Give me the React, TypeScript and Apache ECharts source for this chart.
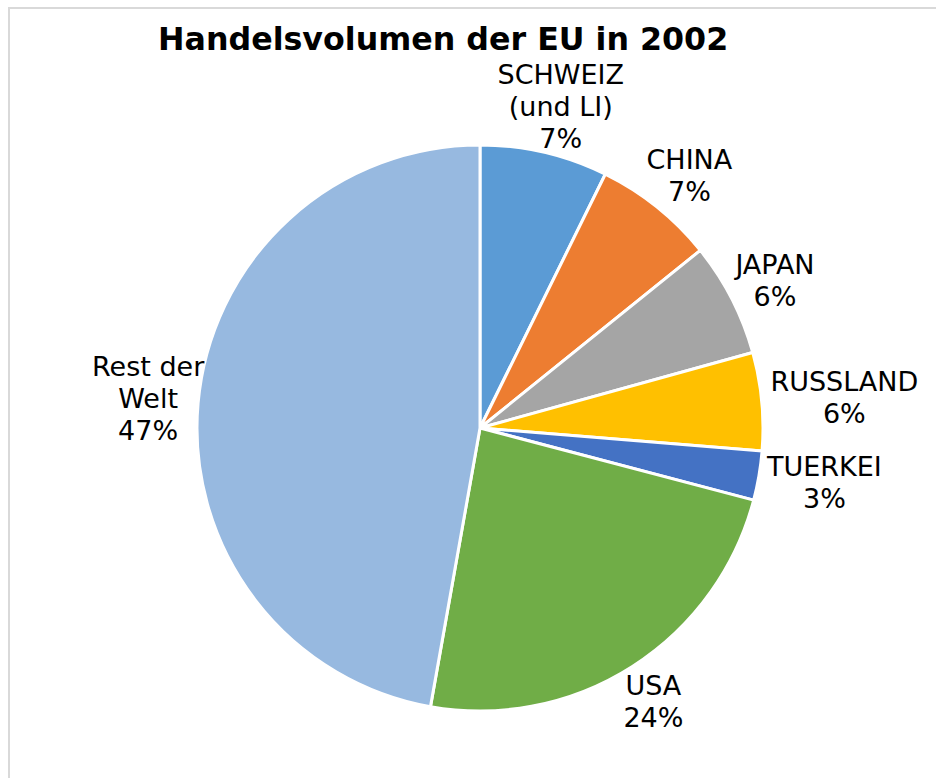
import React, { useEffect, useRef } from "react";
import * as echarts from "echarts";

const TITLE = "Handelsvolumen der EU in 2002";
const categories = ["SCHWEIZ\n(und LI)", "CHINA", "JAPAN", "RUSSLAND", "TUERKEI", "USA", "Rest der\nWelt"];
const values = [7.3, 6.9, 6.5, 5.6, 2.8, 23.7, 47.2];
const colors = ["#5B9BD5", "#ED7D31", "#A5A5A5", "#FFC000", "#4472C4", "#70AD47", "#97B9E0"];

const CX = 480;
const CY = 428;
const R = 283;
const GAP = 9;
// plot-area bounds that labels must stay inside (below the title)
const PLOT_TOP = 58;
const PLOT_LEFT = 92;

export default function App() {
  const ref = useRef<HTMLDivElement>(null);
  useEffect(() => {
    if (!ref.current) return;
    const chart = echarts.init(ref.current, null, { renderer: "svg" });
    const total = values.reduce((a, b) => a + b, 0);
    const labelLayout = (params: any) => {
      const i = params.dataIndex;
      let cum = 0;
      for (let k = 0; k < i; k++) cum += values[k];
      const mid = ((cum + values[i] / 2) / total) * Math.PI * 2;
      const dx = Math.sin(mid);
      const dy = -Math.cos(mid);
      const w = params.labelRect.width;
      const h = params.labelRect.height;
      const ax = CX + dx * (R + GAP);
      const ay = CY + dy * (R + GAP);
      let x = ax + (dx * w) / 2;
      let y = ay + (dy * h) / 2;
      if (y - h / 2 < PLOT_TOP) y = PLOT_TOP + h / 2;
      if (x - w / 2 < PLOT_LEFT) x = PLOT_LEFT + w / 2;
      return { x, y, align: "center", verticalAlign: "middle" };
    };
    chart.setOption({
      animation: false,
      backgroundColor: "#ffffff",
      title: {
        text: TITLE,
        left: 153,
        top: 18,
        textStyle: {
          fontFamily: "DejaVu Sans",
          fontWeight: "bold",
          fontSize: 31.7,
          lineHeight: 32,
          color: "#000000",
        },
      },
      graphic: [
        {
          type: "rect",
          shape: { x: 9, y: 8, width: 1000, height: 1000 },
          style: { fill: "none", stroke: "#d9d9d9", lineWidth: 2 },
          silent: true,
          z: -1,
        },
      ],
      series: [
        {
          type: "pie",
          center: [CX, CY],
          radius: [0, R],
          startAngle: 90,
          clockwise: true,
          percentPrecision: 0,
          avoidLabelOverlap: false,
          itemStyle: { borderColor: "#ffffff", borderWidth: 3 },
          label: {
            show: true,
            position: "outside",
            formatter: "{b}\n{d}%",
            fontFamily: "DejaVu Sans",
            fontSize: 27,
            lineHeight: 32,
            color: "#000000",
            align: "center",
          },
          labelLine: { show: false },
          labelLayout,
          emphasis: { disabled: true },
          data: categories.map((name, i) => ({
            name,
            value: values[i],
            itemStyle: { color: colors[i] },
          })),
        },
      ],
    });
    return () => chart.dispose();
  }, []);
  return (
    <div
      ref={ref}
      style={{ position: "fixed", left: 0, top: 0, width: 936, height: 778 }}
    />
  );
}
